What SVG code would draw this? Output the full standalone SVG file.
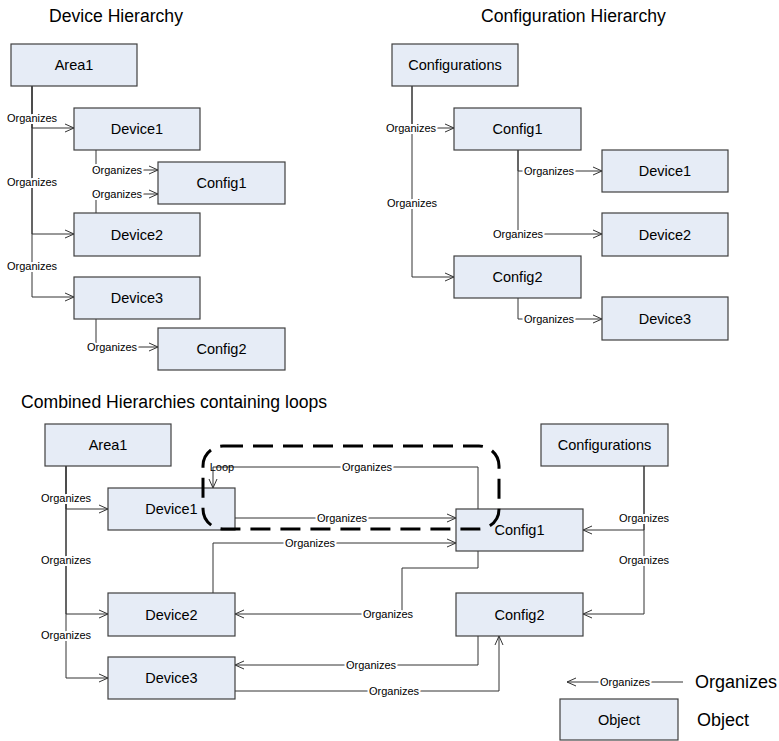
<svg xmlns="http://www.w3.org/2000/svg" width="779" height="741" viewBox="0 0 779 741">
<style>
.node rect{fill:#E6ECF6;stroke:#404040;stroke-width:1.2}
.node text{font-family:"Liberation Sans",Arial,sans-serif;font-size:14.5px;fill:#000;text-anchor:middle}
.title{font-family:"Liberation Sans",Arial,sans-serif;font-size:17.6px;fill:#000}
.big{font-family:"Liberation Sans",Arial,sans-serif;font-size:18px;fill:#000}
.edge{fill:none;stroke:#333;stroke-width:1}
.arr{marker-end:url(#ah)}
.lbl{font-family:"Liberation Sans",Arial,sans-serif;font-size:11px;fill:#000;text-anchor:middle;stroke:#fff;stroke-width:4;stroke-linejoin:round;paint-order:stroke}
</style>
<defs>
<marker id="ah" viewBox="0 0 10 10" refX="10" refY="5" markerWidth="10" markerHeight="10" markerUnits="userSpaceOnUse" orient="auto">
<path d="M1,1 L10,5 L1,9" fill="none" stroke="#333" stroke-width="1"/>
</marker>
</defs>
<rect width="779" height="741" fill="#fff"/>
<text class="title" x="49" y="22">Device Hierarchy</text>
<text class="title" x="481" y="22">Configuration Hierarchy</text>
<text class="title" x="21" y="408">Combined Hierarchies containing loops</text>

<g id="connectors">
<!-- top-left -->
<path class="edge arr" d="M32,86 V128 H74"/>
<path class="edge arr" d="M32,86 V234 H74"/>
<path class="edge arr" d="M32,86 V297 H74"/>
<path class="edge arr" d="M96,150 V170 H158"/>
<path class="edge arr" d="M96,213 V194 H158"/>
<path class="edge arr" d="M96,319 V347 H158"/>
<!-- top-right -->
<path class="edge arr" d="M412,86 V128 H454"/>
<path class="edge arr" d="M412,86 V277 H454"/>
<path class="edge arr" d="M518,150 V171 H602"/>
<path class="edge arr" d="M518,150 V234 H602"/>
<path class="edge arr" d="M518,298 V319 H602"/>
<!-- bottom -->
<path class="edge arr" d="M66,466 V509 H108"/>
<path class="edge arr" d="M66,466 V614 H108"/>
<path class="edge arr" d="M66,466 V678 H108"/>
<path class="edge arr" d="M644,466 V530 H583"/>
<path class="edge arr" d="M644,466 V614 H583"/>
<path class="edge arr" d="M235,518 H456"/>
<path class="edge arr" d="M478,509 V467 H213 V488"/>
<path class="edge arr" d="M213,593 V543 H456"/>
<path class="edge arr" d="M478,551 V568 H402 V614 H235"/>
<path class="edge arr" d="M478,636 V665 H235"/>
<path class="edge arr" d="M235,691 H499 V636"/>
<!-- legend -->
<path class="edge arr" d="M683,682 H567"/>
<!-- labels -->
<text class="lbl" x="32" y="122">Organizes</text>
<text class="lbl" x="32" y="186">Organizes</text>
<text class="lbl" x="32" y="270">Organizes</text>
<text class="lbl" x="117" y="174">Organizes</text>
<text class="lbl" x="117" y="198">Organizes</text>
<text class="lbl" x="112" y="351">Organizes</text>
<text class="lbl" x="411" y="132">Organizes</text>
<text class="lbl" x="412" y="207">Organizes</text>
<text class="lbl" x="549" y="175">Organizes</text>
<text class="lbl" x="518" y="238">Organizes</text>
<text class="lbl" x="549" y="323">Organizes</text>
<text class="lbl" x="66" y="502">Organizes</text>
<text class="lbl" x="66" y="564">Organizes</text>
<text class="lbl" x="66" y="639">Organizes</text>
<text class="lbl" x="644" y="522">Organizes</text>
<text class="lbl" x="644" y="564">Organizes</text>
<text class="lbl" x="367" y="471">Organizes</text>
<text class="lbl" x="342" y="522">Organizes</text>
<text class="lbl" x="310" y="547">Organizes</text>
<text class="lbl" x="388" y="618">Organizes</text>
<text class="lbl" x="371" y="669">Organizes</text>
<text class="lbl" x="394" y="695">Organizes</text>
<text class="lbl" x="625" y="686">Organizes</text>
<text class="lbl" x="222" y="471" style="stroke:none">Loop</text>
</g>

<g id="tl-area1" class="node"><rect x="11" y="44" width="126" height="42"/><text x="74" y="70">Area1</text></g>
<g id="tl-device1" class="node"><rect x="74" y="108" width="126" height="42"/><text x="137" y="134">Device1</text></g>
<g id="tl-config1" class="node"><rect x="158" y="162" width="127" height="42"/><text x="221.5" y="188">Config1</text></g>
<g id="tl-device2" class="node"><rect x="74" y="213" width="126" height="43"/><text x="137" y="239.5">Device2</text></g>
<g id="tl-device3" class="node"><rect x="74" y="277" width="126" height="42"/><text x="137" y="303">Device3</text></g>
<g id="tl-config2" class="node"><rect x="158" y="328" width="127" height="42"/><text x="221.5" y="354">Config2</text></g>

<g id="tr-configurations" class="node"><rect x="392" y="44" width="126" height="42"/><text x="455" y="70">Configurations</text></g>
<g id="tr-config1" class="node"><rect x="454" y="108" width="127" height="42"/><text x="517.5" y="134">Config1</text></g>
<g id="tr-device1" class="node"><rect x="602" y="150" width="126" height="42"/><text x="665" y="176">Device1</text></g>
<g id="tr-device2" class="node"><rect x="602" y="213" width="126" height="43"/><text x="665" y="239.5">Device2</text></g>
<g id="tr-config2" class="node"><rect x="454" y="256" width="127" height="42"/><text x="517.5" y="282">Config2</text></g>
<g id="tr-device3" class="node"><rect x="602" y="297" width="126" height="43"/><text x="665" y="323.5">Device3</text></g>

<g id="b-area1" class="node"><rect x="45" y="424" width="126" height="42"/><text x="108" y="450">Area1</text></g>
<g id="b-device1" class="node"><rect x="108" y="488" width="127" height="42"/><text x="171.5" y="514">Device1</text></g>
<g id="b-device2" class="node"><rect x="108" y="593" width="127" height="43"/><text x="171.5" y="619.5">Device2</text></g>
<g id="b-device3" class="node"><rect x="108" y="657" width="127" height="42"/><text x="171.5" y="683">Device3</text></g>
<g id="b-configurations" class="node"><rect x="541" y="424" width="127" height="42"/><text x="604.5" y="450">Configurations</text></g>
<g id="b-config1" class="node"><rect x="456" y="509" width="127" height="42"/><text x="519.5" y="535">Config1</text></g>
<g id="b-config2" class="node"><rect x="456" y="593" width="127" height="43"/><text x="519.5" y="619.5">Config2</text></g>

<g id="loop"><rect x="203" y="446" width="296" height="83" rx="20" fill="none" stroke="#000" stroke-width="3" stroke-dasharray="20 10"/></g>

<g id="legend-object" class="node"><rect x="560" y="699" width="118" height="41"/><text x="619" y="725">Object</text></g>
<text class="big" x="695" y="688">Organizes</text>
<text class="big" x="697" y="726">Object</text>
</svg>
